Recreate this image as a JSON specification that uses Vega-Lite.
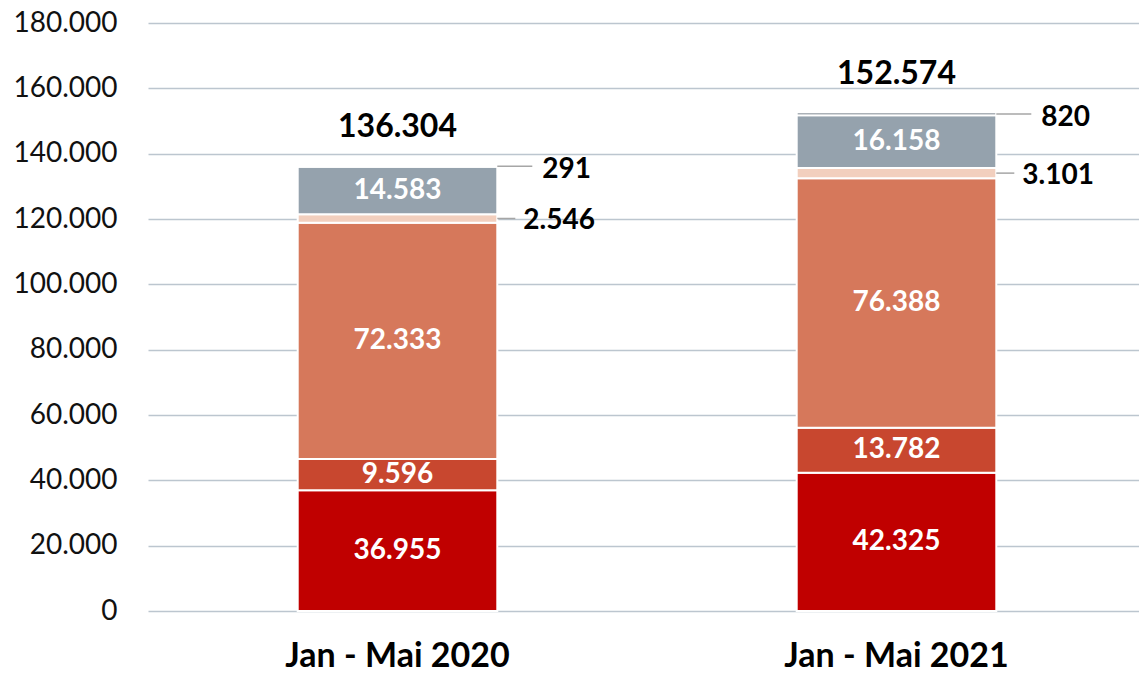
{
  "$schema": "https://vega.github.io/schema/vega-lite/v6.json",
  "width": 998,
  "height": 588,
  "autosize": "none",
  "padding": {"left": 148, "top": 23, "right": 0, "bottom": 62},
  "background": "white",
  "config": {
    "view": {"stroke": null},
    "locale": {"number": {"decimal": ",", "thousands": ".", "grouping": [3], "currency": ["", " €"]}}
  },
  "data": {
    "values": [
      {"period": "Jan - Mai 2020", "segment": "S1", "order": 1, "value": 36955},
      {"period": "Jan - Mai 2020", "segment": "S2", "order": 2, "value": 9596},
      {"period": "Jan - Mai 2020", "segment": "S3", "order": 3, "value": 72333},
      {"period": "Jan - Mai 2020", "segment": "S4", "order": 4, "value": 2546},
      {"period": "Jan - Mai 2020", "segment": "S5", "order": 5, "value": 14583},
      {"period": "Jan - Mai 2020", "segment": "S6", "order": 6, "value": 291},
      {"period": "Jan - Mai 2021", "segment": "S1", "order": 1, "value": 42325},
      {"period": "Jan - Mai 2021", "segment": "S2", "order": 2, "value": 13782},
      {"period": "Jan - Mai 2021", "segment": "S3", "order": 3, "value": 76388},
      {"period": "Jan - Mai 2021", "segment": "S4", "order": 4, "value": 3101},
      {"period": "Jan - Mai 2021", "segment": "S5", "order": 5, "value": 16158},
      {"period": "Jan - Mai 2021", "segment": "S6", "order": 6, "value": 820}
    ]
  },
  "transform": [
    {"stack": "value", "groupby": ["period"], "sort": [{"field": "order", "order": "ascending"}], "as": ["y0", "y1"]},
    {"calculate": "(datum.y0 + datum.y1) / 2", "as": "mid"}
  ],
  "encoding": {
    "x": {
      "field": "period",
      "type": "nominal",
      "scale": {"paddingInner": 0.6, "paddingOuter": 0.3},
      "axis": {
        "title": null,
        "labelAngle": 0,
        "labelFont": "Lato",
        "labelFontWeight": "bold",
        "labelFontSize": 34,
        "labelColor": "#000000",
        "labelPadding": 28,
        "labelLimit": 500,
        "ticks": false,
        "domain": false
      }
    }
  },
  "layer": [
    {
      "mark": {"type": "bar", "stroke": "white", "strokeWidth": 2},
      "encoding": {
        "y": {
          "field": "y0",
          "type": "quantitative",
          "scale": {"domain": [0, 180000]},
          "axis": {
            "title": null,
            "values": [0, 20000, 40000, 60000, 80000, 100000, 120000, 140000, 160000, 180000],
            "format": ",d",
            "labelFont": "Lato",
            "labelFontSize": 28,
            "labelColor": "#111111",
            "labelPadding": 31,
            "ticks": false,
            "domain": false,
            "grid": true,
            "gridColor": "#BCC6CF",
            "gridWidth": 1.5
          }
        },
        "y2": {"field": "y1"},
        "color": {
          "field": "segment",
          "type": "nominal",
          "legend": null,
          "scale": {
            "domain": ["S1", "S2", "S3", "S4", "S5", "S6"],
            "range": ["#C00000", "#C8472F", "#D6785B", "#F2CFBE", "#95A2AD", "#56636E"]
          }
        }
      }
    },
    {
      "transform": [{"filter": "datum.value > 5000"}],
      "mark": {"type": "text", "font": "Lato", "fontWeight": "bold", "fontSize": 28, "color": "#FFFFFF", "baseline": "middle"},
      "encoding": {
        "y": {"field": "mid", "type": "quantitative"},
        "text": {"field": "value", "type": "quantitative", "format": ",d"}
      }
    },
    {
      "transform": [{"filter": "datum.order == 6"}],
      "mark": {"type": "rule", "color": "#A6A6A6", "strokeWidth": 1.5, "x2Offset": 35},
      "encoding": {
        "x": {"field": "period", "type": "nominal", "bandPosition": 1},
        "x2": {"field": "period", "bandPosition": 1},
        "y": {"field": "mid", "type": "quantitative"}
      }
    },
    {
      "transform": [{"filter": "datum.order == 4"}],
      "mark": {"type": "rule", "color": "#A6A6A6", "strokeWidth": 1.5, "x2Offset": 18},
      "encoding": {
        "x": {"field": "period", "type": "nominal", "bandPosition": 1},
        "x2": {"field": "period", "bandPosition": 1},
        "y": {"field": "mid", "type": "quantitative"}
      }
    },
    {
      "transform": [{"filter": "datum.order == 6"}],
      "mark": {"type": "text", "font": "Lato", "fontWeight": "bold", "fontSize": 28, "color": "#000000", "align": "left", "baseline": "middle", "dx": 45, "dy": 4},
      "encoding": {
        "x": {"field": "period", "type": "nominal", "bandPosition": 1},
        "y": {"field": "mid", "type": "quantitative"},
        "text": {"field": "value", "type": "quantitative", "format": ",d"}
      }
    },
    {
      "transform": [{"filter": "datum.order == 4"}],
      "mark": {"type": "text", "font": "Lato", "fontWeight": "bold", "fontSize": 28, "color": "#000000", "align": "left", "baseline": "middle", "dx": 26, "dy": 3},
      "encoding": {
        "x": {"field": "period", "type": "nominal", "bandPosition": 1},
        "y": {"field": "mid", "type": "quantitative"},
        "text": {"field": "value", "type": "quantitative", "format": ",d"}
      }
    },
    {
      "transform": [{"aggregate": [{"op": "sum", "field": "value", "as": "total"}], "groupby": ["period"]}],
      "mark": {"type": "text", "font": "Lato", "fontWeight": "bold", "fontSize": 32, "color": "#000000", "baseline": "middle", "dy": -39},
      "encoding": {
        "y": {"field": "total", "type": "quantitative"},
        "text": {"field": "total", "type": "quantitative", "format": ",d"}
      }
    }
  ]
}
